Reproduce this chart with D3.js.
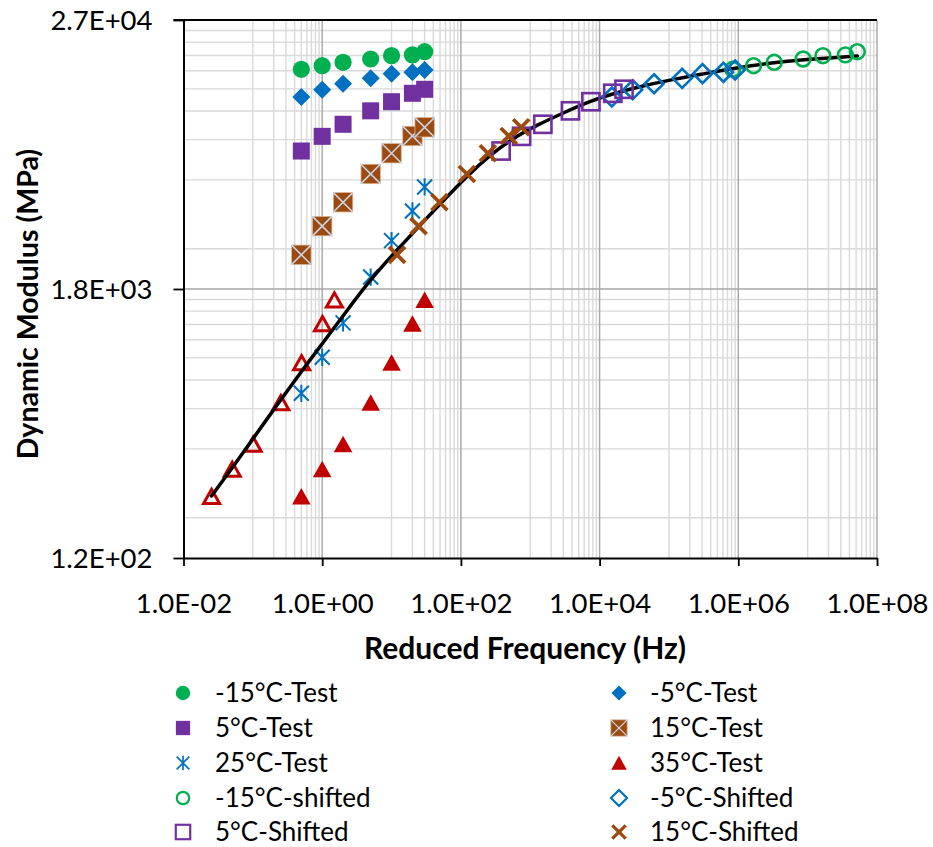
<!DOCTYPE html>
<html><head><meta charset="utf-8">
<script src="https://cdn.jsdelivr.net/npm/d3@7/dist/d3.min.js"></script>
<style>body{margin:0;background:#fff;} text{font-family:Lato,"Open Sans",sans-serif;fill:#000;}</style>
</head><body><svg id="c" width="933" height="847"></svg>
<script>
// ---- tick labels ----
const xTickValues = [1e-2, 1, 1e2, 1e4, 1e6, 1e8];
const xTickLabels = ["1.0E-02","1.0E+00","1.0E+02","1.0E+04","1.0E+06","1.0E+08"];
const yTickValues = [120, 1800, 27000];
const yTickLabels = ["1.2E+02","1.8E+03","2.7E+04"];

// ---- test frequencies (Hz) ----
const testFreq = [0.5, 1, 2, 5, 10, 20, 30];
// ---- measured dynamic modulus (MPa) ----
const eM15 = [16440, 17040, 17640, 18230, 18850, 19000, 19620];
const eM5  = [12440, 13380, 14210, 15010, 15730, 15950, 16320];
const e5   = [7220, 8370, 9450, 10820, 11860, 12910, 13440];
const e15  = [2540, 3390, 4310, 5730, 7060, 8400, 9170];
const e25  = [630, 905, 1280, 2030, 2930, 3950, 5030];
const e35  = [223, 293, 377, 573, 856, 1270, 1610];

// ---- reduced (shifted) frequencies (Hz) ----
const fShiftM15 = [8.3e5, 1.66e6, 3.3e6, 8.6e6, 1.66e7, 3.5e7, 5.2e7];
const fShiftM5  = [15000, 30000, 61000, 155000, 305000, 610000, 900000];
const fShift5   = [380, 750, 1520, 3800, 7500, 15500, 22500];
const fShift15  = [12, 24.5, 49, 122, 245, 490, 740];
const fShift35  = [0.0254, 0.0505, 0.101, 0.253, 0.505, 1.01, 1.5];

// ---- master curve ----
const curveFreq = [0.0254, 0.0504, 0.101, 0.252, 0.506, 1.01, 2.13, 4.9, 11.9, 24.9, 50.1, 122, 264, 567, 1260, 2980, 7320, 16800, 38500, 104000, 283000, 905000, 2.9e6, 7.85e6, 2.51e7, 5.2e7];
const curveE    = [224, 297, 400, 590, 788, 1040, 1410, 1975, 2660, 3380, 4235, 5615, 6937, 8232, 9384, 10590, 11950, 12950, 13830, 14760, 15600, 16660, 17510, 18050, 18500, 18790];

const GREEN="#00B050", BLUE="#0070C0", PURPLE="#7030A0", BROWN="#9C4A0E", RED="#C00000";

const series = [
  {name:"-15°C-Test", f:testFreq, e:eM15, type:"circle", fill:GREEN, legend:true},
  {name:"-5°C-Test", f:testFreq, e:eM5, type:"diamond", fill:BLUE, legend:true},
  {name:"5°C-Test", f:testFreq, e:e5, type:"square", fill:PURPLE, legend:true},
  {name:"15°C-Test", f:testFreq, e:e15, type:"xsquare", fill:BROWN, legend:true},
  {name:"25°C-Test", f:testFreq, e:e25, type:"asterisk", fill:BLUE, legend:true},
  {name:"35°C-Test", f:testFreq, e:e35, type:"triangle", fill:RED, legend:true},
  {name:"-15°C-shifted", f:fShiftM15, e:eM15, type:"ocircle", fill:GREEN, legend:true},
  {name:"-5°C-Shifted", f:fShiftM5, e:eM5, type:"odiamond", fill:BLUE, legend:true},
  {name:"5°C-Shifted", f:fShift5, e:e5, type:"osquare", fill:PURPLE, legend:true},
  {name:"15°C-Shifted", f:fShift15, e:e15, type:"cross", fill:BROWN, legend:true},
  {name:"35°C-shifted", f:fShift35, e:e35, type:"otriangle", fill:RED, legend:false}
];

const svg = d3.select("#c");
const L=183.5, R=877, T=20, B=558;
const x = d3.scaleLog().domain([1e-2,1e8]).range([L,R]);
const y = d3.scaleLog().base(15).domain([120,27000]).range([B,T]);

// gridlines
const g = svg.append("g");
const xMinor=[], yMinor=[];
xTickValues.slice(0,-1).forEach(d=>{ for(let k=1;k<=9;k++) xMinor.push(d*10*k); });
yTickValues.slice(0,-1).forEach(d=>{ for(let k=1;k<=9;k++) yMinor.push(d*1.5*k); });
g.selectAll(".xm").data(xMinor).join("line").attr("x1",d=>x(d)).attr("x2",d=>x(d)).attr("y1",T).attr("y2",B).attr("stroke","#D9D9D9").attr("stroke-width",1.4);
g.selectAll(".ym").data(yMinor).join("line").attr("y1",d=>y(d)).attr("y2",d=>y(d)).attr("x1",L).attr("x2",R).attr("stroke","#D9D9D9").attr("stroke-width",1.4);
g.selectAll(".xM").data(xTickValues.slice(1)).join("line").attr("x1",d=>x(d)).attr("x2",d=>x(d)).attr("y1",T).attr("y2",B).attr("stroke","#A6A6A6").attr("stroke-width",1.4);
g.selectAll(".yM").data([1800]).join("line").attr("y1",d=>y(d)).attr("y2",d=>y(d)).attr("x1",L).attr("x2",R).attr("stroke","#A6A6A6").attr("stroke-width",1.4);
g.append("line").attr("x1",L-10).attr("x2",R).attr("y1",y(27000)).attr("y2",y(27000)).attr("stroke","#000").attr("stroke-width",1.8);

// axes
const xa = svg.append("g").attr("transform",`translate(0,${B})`)
  .call(d3.axisBottom(x).tickValues(xTickValues).tickFormat((d,i)=>xTickLabels[i]).tickSize(8).tickSizeOuter(0));
xa.select(".domain").attr("stroke","#000").attr("stroke-width",2);
xa.selectAll(".tick line").attr("stroke","#000").attr("stroke-width",1.8);
xa.selectAll(".tick text").attr("y",55).attr("dy",null).style("font-size","27.5px").attr("fill","#000");
const ya = svg.append("g").attr("transform",`translate(${L},0)`)
  .call(d3.axisLeft(y).tickValues(yTickValues).tickFormat((d,i)=>yTickLabels[i]).tickSize(10).tickSizeOuter(0).tickPadding(21));
ya.select(".domain").attr("stroke","#000").attr("stroke-width",2);
ya.selectAll(".tick line").attr("stroke","#000").attr("stroke-width",1.8);
ya.selectAll(".tick text").attr("dy","0.35em").style("font-size","27.5px").attr("fill","#000");

// titles
svg.append("text").attr("x",525).attr("y",659).attr("text-anchor","middle").style("font-size","30px").style("font-weight","bold").text("Reduced Frequency (Hz)");
svg.append("text").attr("transform","translate(38,304) rotate(-90)").attr("text-anchor","middle").style("font-size","28.5px").style("font-weight","bold").text("Dynamic Modulus (MPa)");

// marker drawing
function drawMarker(sel, type, color, s){
  const h=8.5*s;
  switch(type){
    case "circle": sel.append("circle").attr("r",8.6*s).attr("fill",color); break;
    case "ocircle": sel.append("circle").attr("r",7.4*s).attr("fill","none").attr("stroke",color).attr("stroke-width",2.6*s); break;
    case "diamond": sel.append("path").attr("d",`M0,${-9*s}L${9*s},0L0,${9*s}L${-9*s},0Z`).attr("fill",color); break;
    case "odiamond": sel.append("path").attr("d",`M0,${-9.5*s}L${9.5*s},0L0,${9.5*s}L${-9.5*s},0Z`).attr("fill","none").attr("stroke",color).attr("stroke-width",2.6*s); break;
    case "square": sel.append("rect").attr("x",-h).attr("y",-h).attr("width",2*h).attr("height",2*h).attr("fill",color); break;
    case "osquare": {const q=8.6*s; sel.append("rect").attr("x",-q).attr("y",-q).attr("width",2*q).attr("height",2*q).attr("fill","none").attr("stroke",color).attr("stroke-width",2.6*s);} break;
    case "xsquare": {const q=9.7*s; sel.append("rect").attr("x",-q).attr("y",-q).attr("width",2*q).attr("height",2*q).attr("fill",color).attr("stroke","#D8B49A").attr("stroke-width",0.8);
      sel.append("path").attr("d",`M${-q},${-q}L${q},${q}M${q},${-q}L${-q},${q}`).attr("stroke","#C5D6EA").attr("stroke-width",1.6*s);} break;
    case "asterisk": {const q=7.5*s; sel.append("path").attr("d",`M${-q},${-q}L${q},${q}M${q},${-q}L${-q},${q}M0,${-q*1.15}L0,${q*1.15}`).attr("stroke",color).attr("stroke-width",2*s).attr("fill","none");} break;
    case "cross": {const q=8*s; sel.append("path").attr("d",`M${-q},${-q}L${q},${q}M${q},${-q}L${-q},${q}`).attr("stroke",color).attr("stroke-width",3.8*s).attr("fill","none");} break;
    case "triangle": sel.append("path").attr("d",`M0,${-8.5*s}L${9.3*s},${8*s}L${-9.3*s},${8*s}Z`).attr("fill",color); break;
    case "otriangle": sel.append("path").attr("d",`M0,${-7.2*s}L${8*s},${7*s}L${-8*s},${7*s}Z`).attr("fill","none").attr("stroke",color).attr("stroke-width",3*s).attr("stroke-linejoin","miter"); break;
  }
}

function plotSeries(s){
  const pts = s.f.map((f,i)=>({f, e:s.e[i]}));
  svg.append("g").selectAll("g").data(pts).join("g")
    .attr("transform",d=>`translate(${x(d.f)},${y(d.e)})`)
    .each(function(){ drawMarker(d3.select(this), s.type, s.fill, 1); });
}

series.slice(0,6).forEach(plotSeries);
plotSeries(series[10]);
const curvePts = curveFreq.map((f,i)=>[x(f), y(curveE[i])]);
svg.append("path").attr("d", d3.line().curve(d3.curveBasis)(curvePts))
  .attr("fill","none").attr("stroke","#000").attr("stroke-width",3.5).attr("stroke-linecap","round");
series.slice(6,10).forEach(plotSeries);

// legend
const legendItems = series.filter(s=>s.legend);
const colX = [183, 619], textX = [215, 650], rowY = [693, 728, 763, 798, 832];
legendItems.forEach((s,i)=>{
  const c=i%2, r=Math.floor(i/2);
  const lg = svg.append("g").attr("transform",`translate(${colX[c]},${rowY[r]})`);
  drawMarker(lg, s.type, s.fill, 0.84);
  svg.append("text").attr("x",textX[c]).attr("y",rowY[r]+9).style("font-size","26px").text(s.name);
});
</script></body></html>
